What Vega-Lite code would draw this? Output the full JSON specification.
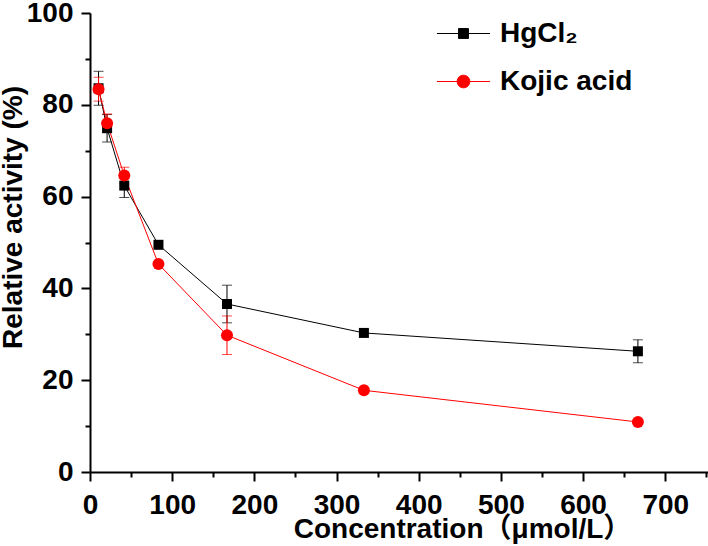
{
  "$schema": "https://vega.github.io/schema/vega-lite/v6.json",
  "width": 618,
  "height": 459,
  "autosize": {"type": "none"},
  "padding": {"left": 90, "top": 13, "right": 0, "bottom": 74},
  "background": "white",
  "config": {
    "view": {"stroke": null},
    "font": "Liberation Sans",
    "axis": {
      "grid": false,
      "domainColor": "black",
      "domainWidth": 2,
      "tickColor": "black",
      "tickWidth": 2,
      "labelColor": "black",
      "labelFont": "Liberation Sans",
      "labelFontSize": 28,
      "labelFontWeight": "bold",
      "titleColor": "black",
      "titleFont": "Liberation Sans, Noto Sans CJK SC",
      "titleFontSize": 28,
      "titleFontWeight": "bold",
      "labelFlush": false,
      "labelOverlap": false
    }
  },
  "data": {
    "values": [
      {"series": "HgCl₂", "conc": 10.4, "val": 83.6, "err": 3.7},
      {"series": "HgCl₂", "conc": 20.8, "val": 74.9, "err": 3.0},
      {"series": "HgCl₂", "conc": 41.7, "val": 62.4, "err": 2.6},
      {"series": "HgCl₂", "conc": 83.3, "val": 49.5, "err": 0},
      {"series": "HgCl₂", "conc": 166.7, "val": 36.6, "err": 4.1},
      {"series": "HgCl₂", "conc": 333.3, "val": 30.3, "err": 0},
      {"series": "HgCl₂", "conc": 666.7, "val": 26.3, "err": 2.5},
      {"series": "Kojic acid", "conc": 10.4, "val": 83.4, "err": 2.6},
      {"series": "Kojic acid", "conc": 20.8, "val": 76.0, "err": 2.0},
      {"series": "Kojic acid", "conc": 41.7, "val": 64.6, "err": 1.8},
      {"series": "Kojic acid", "conc": 83.3, "val": 45.3, "err": 0},
      {"series": "Kojic acid", "conc": 166.7, "val": 29.8, "err": 4.2},
      {"series": "Kojic acid", "conc": 333.3, "val": 17.8, "err": 0},
      {"series": "Kojic acid", "conc": 666.7, "val": 10.9, "err": 0}
    ]
  },
  "resolve": {"axis": {"x": "independent", "y": "independent"}},
  "layer": [
    {
      "mark": {"type": "line", "strokeWidth": 1},
      "encoding": {
        "x": {
          "field": "conc", "type": "quantitative",
          "scale": {"domain": [0, 752], "nice": false, "zero": false},
          "axis": {
            "orient": "bottom",
            "values": [0, 100, 200, 300, 400, 500, 600, 700],
            "tickSize": 9,
            "labelPadding": 10,
            "title": "Concentration（μmol/L）",
            "titlePadding": -4,
            "titleX": 372,
            "titleAlign": "center"
          }
        },
        "y": {
          "field": "val", "type": "quantitative",
          "scale": {"domain": [0, 100], "nice": false},
          "axis": {
            "orient": "left",
            "values": [0, 20, 40, 60, 80, 100],
            "tickSize": 9,
            "labelPadding": 8,
            "title": "Relative activity (%)",
            "titlePadding": -1,
            "titleY": 204,
            "titleAlign": "center"
          }
        },
        "color": {
          "field": "series", "type": "nominal",
          "scale": {"domain": ["HgCl₂", "Kojic acid"], "range": ["#000000", "#ff0000"]},
          "legend": {
            "orient": "none",
            "legendX": 358,
            "legendY": 5,
            "title": null,
            "padding": 0,
            "labelFont": "Liberation Sans",
            "labelFontSize": 28,
            "labelFontWeight": "bold",
            "labelColor": "black",
            "symbolSize": 900,
            "labelOffset": 21,
            "rowPadding": 18,
            "symbolStrokeWidth": 1,
            "encode": {
              "symbols": {
                "update": {
                  "shape": {"signal": "datum.value === 'HgCl₂' ? 'M-1.77,0H1.77M-0.33,-0.33H0.33V0.33H-0.33Z' : 'M-1.77,0H1.77M-0.42,0A0.42,0.42,0,1,1,0.42,0A0.42,0.42,0,1,1,-0.42,0Z'"},
                  "fill": {"signal": "datum.value === 'HgCl₂' ? '#000000' : '#ff0000'"},
                  "stroke": {"signal": "datum.value === 'HgCl₂' ? '#000000' : '#ff0000'"},
                  "strokeWidth": {"value": 1},
                  "size": {"value": 900},
                  "opacity": {"value": 1}
                }
              }
            }
          }
        }
      }
    },
    {
      "transform": [{"filter": "datum.err > 0"}],
      "mark": {"type": "errorbar", "thickness": 1, "ticks": {"size": 10, "thickness": 1}},
      "encoding": {
        "x": {"field": "conc", "type": "quantitative", "axis": null},
        "y": {"field": "val", "type": "quantitative", "axis": null},
        "yError": {"field": "err"},
        "color": {"field": "series", "type": "nominal"}
      }
    },
    {
      "transform": [{"filter": "datum.series === 'HgCl₂'"}],
      "mark": {"type": "point", "shape": "square", "filled": true, "opacity": 1, "size": 100, "color": "#000000"},
      "encoding": {
        "x": {
          "field": "conc", "type": "quantitative",
          "axis": {
            "orient": "bottom",
            "values": [50, 150, 250, 350, 450, 550, 650, 750],
            "tickSize": 5,
            "labels": false,
            "domain": false,
            "title": null
          }
        },
        "y": {
          "field": "val", "type": "quantitative",
          "axis": {
            "orient": "left",
            "values": [10, 30, 50, 70, 90],
            "tickSize": 5,
            "labels": false,
            "domain": false,
            "title": null
          }
        }
      }
    },
    {
      "transform": [{"filter": "datum.series === 'Kojic acid'"}],
      "mark": {"type": "point", "shape": "circle", "filled": true, "opacity": 1, "size": 144, "color": "#ff0000"},
      "encoding": {
        "x": {"field": "conc", "type": "quantitative", "axis": null},
        "y": {"field": "val", "type": "quantitative", "axis": null}
      }
    }
  ]
}
